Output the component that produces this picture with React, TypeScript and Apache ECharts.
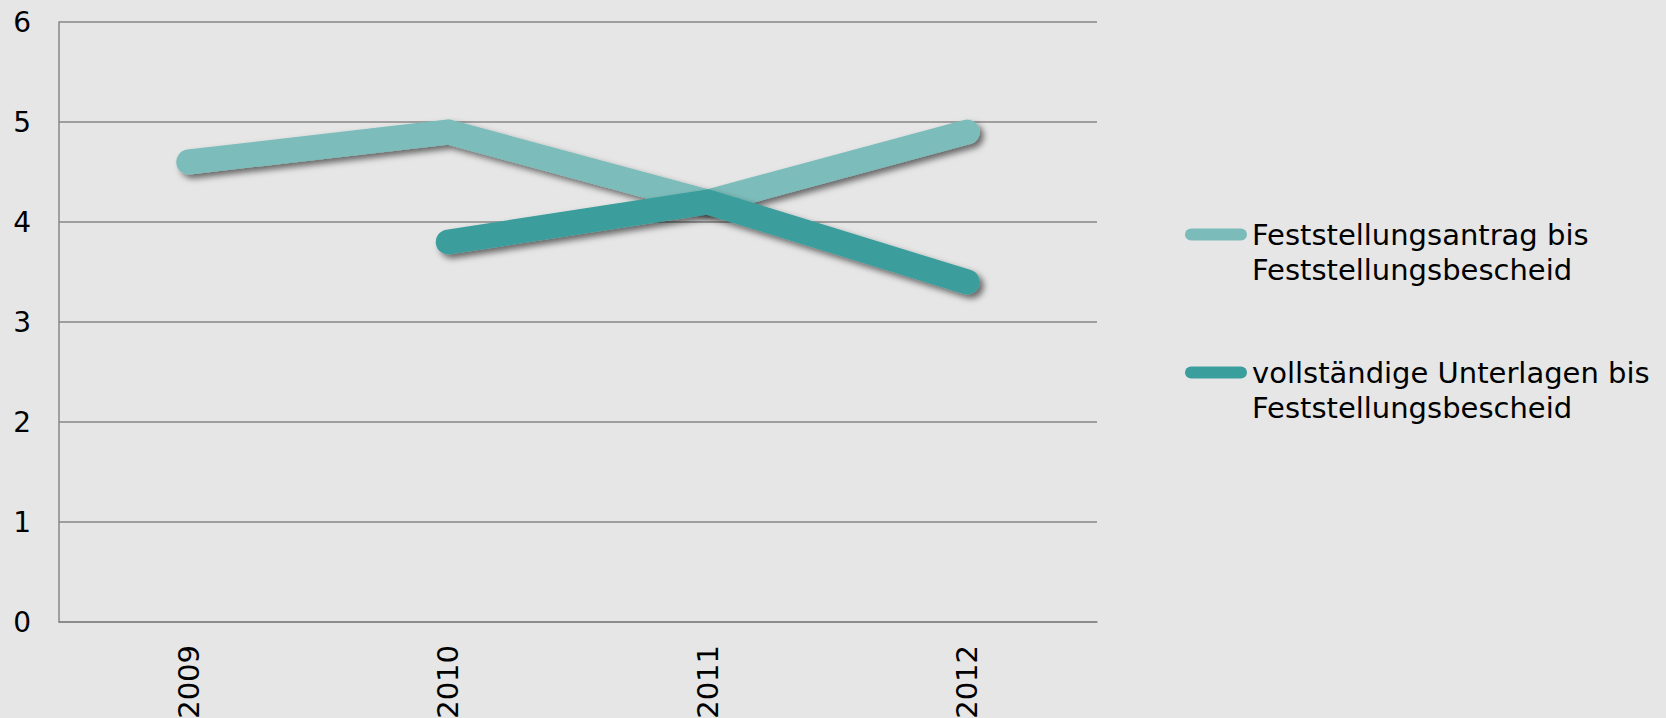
import React, { useEffect, useRef } from "react";
import * as echarts from "echarts";

const categories = ["2009", "2010", "2011", "2012"];
const seriesNames = [
  "Feststellungsantrag bis Feststellungsbescheid",
  "vollständige Unterlagen bis Feststellungsbescheid",
];
const legendLabels = [
  "Feststellungsantrag bis\nFeststellungsbescheid",
  "vollständige Unterlagen bis\nFeststellungsbescheid",
];
const antragValues = [4.6, 4.9, 4.2, 4.9];
const unterlagenValues: (number | null)[] = [null, 3.8, 4.2, 3.4];
const seriesColors = ["#7bbcba", "#3a9e9c"];
const yMin = 0;
const yMax = 6;
const yInterval = 1;

const FONT = "'DejaVu Sans', Verdana, sans-serif";
const ICON = "path://M6,0 L56,0 A6,6 0 0 1 56,12 L6,12 A6,6 0 0 1 6,0 Z";

export default function App() {
  const ref = useRef<HTMLDivElement>(null);
  useEffect(() => {
    if (!ref.current) return;
    const chart = echarts.init(ref.current, null, { renderer: "svg" });
    const lineStyle = (color: string) => ({
      color,
      width: 25,
      cap: "round",
      join: "miter",
      shadowColor: "rgba(0,0,0,0.55)",
      shadowBlur: 6,
      shadowOffsetX: 4,
      shadowOffsetY: 4,
    });
    chart.setOption({
      animation: false,
      backgroundColor: "#e6e6e6",
      textStyle: { fontFamily: FONT },
      grid: {
        left: 59,
        right: 569,
        top: 22,
        bottom: 96,
        containLabel: false,
        outerBoundsMode: "none",
      },
      legend: {
        orient: "vertical",
        left: 1185,
        top: 182,
        padding: 0,
        itemWidth: 62,
        itemHeight: 12,
        itemGap: 33,
        icon: ICON,
        selectedMode: false,
        itemStyle: { borderWidth: 0 },
        data: seriesNames,
        formatter: (name: string) => " \n" + legendLabels[seriesNames.indexOf(name)],
        textStyle: {
          fontFamily: FONT,
          fontSize: 29,
          lineHeight: 35,
          color: "#000",
        },
      },
      xAxis: {
        type: "category",
        data: categories,
        boundaryGap: true,
        axisLine: { show: true, lineStyle: { color: "#878787", width: 1.5 } },
        axisTick: { show: false },
        splitLine: { show: false },
        axisLabel: {
          rotate: 90,
          margin: 23,
          fontSize: 29,
          color: "#000",
          fontFamily: FONT,
        },
      },
      yAxis: {
        type: "value",
        min: yMin,
        max: yMax,
        interval: yInterval,
        axisLine: { show: true, lineStyle: { color: "#878787", width: 1.5 } },
        axisTick: { show: false },
        splitLine: { show: true, lineStyle: { color: "#878787", width: 1.5 } },
        axisLabel: { margin: 28, fontSize: 28, color: "#000", fontFamily: FONT },
      },
      series: [
        {
          name: seriesNames[0],
          type: "line",
          data: antragValues,
          showSymbol: false,
          symbol: "none",
          itemStyle: { color: seriesColors[0] },
          lineStyle: lineStyle(seriesColors[0]),
        },
        {
          name: seriesNames[1],
          type: "line",
          data: unterlagenValues,
          showSymbol: false,
          symbol: "none",
          itemStyle: { color: seriesColors[1] },
          lineStyle: lineStyle(seriesColors[1]),
        },
      ],
    });
    return () => chart.dispose();
  }, []);
  return (
    <div
      ref={ref}
      style={{
        position: "absolute",
        left: 0,
        top: 0,
        width: "1666px",
        height: "718px",
        background: "#e6e6e6",
      }}
    />
  );
}
